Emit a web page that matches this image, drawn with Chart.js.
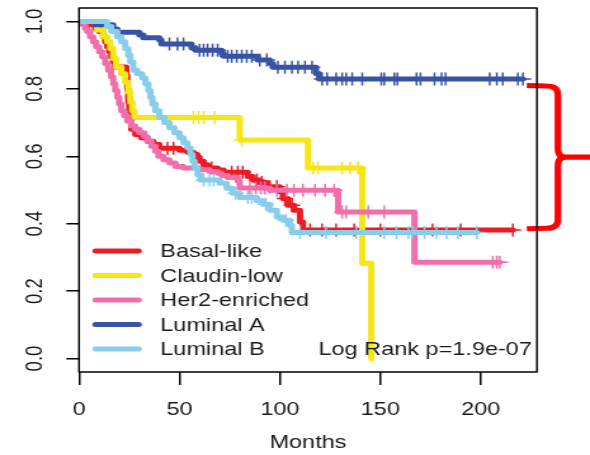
<!DOCTYPE html>
<html>
<head>
<meta charset="utf-8">
<title>Overall survival by subtype</title>
<script src="https://cdn.jsdelivr.net/npm/chart.js@4.4.1/dist/chart.umd.min.js"></script>
<style>
  html, body { margin: 0; padding: 0; background: #fff; }
  /* the source figure is stretched sideways, so the canvas is too */
  #wrap {
    position: absolute; left: 0; top: 0;
    width: 465px; height: 455px;
    transform: scaleX(1.2688); transform-origin: 0 0;
  }
</style>
</head>
<body>
<div id="wrap"><canvas id="kmChart" width="465" height="455"></canvas></div>
<script>
// --- Data ---
const subtypes = ["Basal-like", "Claudin-low", "Her2-enriched", "Luminal A", "Luminal B"];
const subtypeColors = ["#ED1C24", "#F5E614", "#F06EAA", "#3953A4", "#88CDEA"];

// event times (months) and survival just after each event, plus censor times
const basalTimes = [5, 8, 10, 12, 13, 14, 15, 16, 17, 18, 23.5, 24, 24.5, 25, 25.5, 26, 28, 31, 34, 37,
  40, 50, 54, 57, 59, 60, 62, 64, 69, 72, 84, 86.5, 90, 93.5, 100, 101.5, 104, 107, 110, 111.5];
const basalSurv = [0.99, 0.98, 0.97, 0.955, 0.94, 0.925, 0.91, 0.895, 0.88, 0.865, 0.84, 0.8, 0.76, 0.74, 0.71, 0.68, 0.665, 0.655, 0.645, 0.635,
  0.624, 0.618, 0.612, 0.605, 0.597, 0.585, 0.575, 0.565, 0.559, 0.553, 0.54, 0.53, 0.522, 0.51, 0.495, 0.475, 0.455, 0.44, 0.405, 0.381];
const basalCensored = [44, 47, 66, 76, 79, 81.5, 88.5, 91, 95, 98.5, 102.5, 106, 115, 121, 128, 137, 150, 176, 190, 216];

const claudinTimes = [9, 12, 14, 15.5, 17, 18.5, 21, 23, 24.5, 25.5, 26.5, 27.5, 80, 114, 141, 145.5];
const claudinSurv = [0.975, 0.955, 0.94, 0.92, 0.89, 0.865, 0.845, 0.82, 0.79, 0.76, 0.735, 0.715, 0.648, 0.565, 0.283, 0];
const claudinCensored = [57, 59.5, 62, 67.5, 81, 116.5, 119, 131, 135, 139];

const her2Times = [2, 3, 4, 5.5, 7, 8.5, 10, 11.5, 13, 14.5, 16, 17, 18, 19, 20, 21, 22.5, 24, 26, 28,
  30, 32.5, 34, 36, 38, 39.5, 42, 45, 48, 52, 60, 65, 69, 71, 74, 79, 80, 95, 129, 167];
const her2Surv = [0.99, 0.98, 0.97, 0.955, 0.94, 0.925, 0.91, 0.895, 0.875, 0.855, 0.835, 0.815, 0.795, 0.775, 0.755, 0.735, 0.72, 0.705, 0.69, 0.68,
  0.67, 0.658, 0.645, 0.63, 0.615, 0.6, 0.59, 0.58, 0.57, 0.565, 0.56, 0.555, 0.55, 0.543, 0.537, 0.527, 0.506, 0.499, 0.435, 0.286];
const her2Censored = [85, 88, 90.5, 92.5, 98.5, 103.5, 107, 111.5, 117.5, 122.5, 127, 131, 133, 144, 152, 206, 208, 209.5];

const lumATimes = [8, 17, 19, 30, 32, 40, 41, 56, 58, 71, 72, 89, 95, 96.5, 118, 119.5];
const lumASurv = [0.99, 0.978, 0.968, 0.96, 0.952, 0.945, 0.933, 0.922, 0.915, 0.905, 0.897, 0.886, 0.875, 0.864, 0.846, 0.829];
const lumACensored = [45, 49, 52, 60, 62, 64, 66.5, 69, 74, 76, 78.5, 81, 83.5, 86, 90, 93.5, 99, 102.5, 106, 109, 112.5, 116,
  121, 123.5, 128, 131, 133, 136, 141, 150.5, 152, 157, 158.5, 168, 170, 177, 180.5, 182.5, 204.5, 208, 211, 218.5, 221];

const lumBTimes = [14, 16, 19, 21, 23, 24.5, 25.5, 27, 29, 31.5, 33, 34.5, 35.5, 36.5, 38, 40, 42.5, 45, 47.5, 50,
  52, 54, 55.5, 56.5, 57.5, 59, 60.5, 70, 73.5, 76.5, 80, 88.5, 91.5, 95, 98.5, 101.5, 105, 106];
const lumBSurv = [0.985, 0.97, 0.955, 0.94, 0.92, 0.9, 0.88, 0.855, 0.845, 0.832, 0.815, 0.795, 0.775, 0.755, 0.735, 0.715, 0.7, 0.685, 0.67, 0.655,
  0.64, 0.625, 0.605, 0.585, 0.565, 0.545, 0.53, 0.52, 0.505, 0.49, 0.478, 0.468, 0.458, 0.44, 0.42, 0.41, 0.395, 0.374];
const lumBCensored = [62, 65, 67, 78, 84, 86, 93, 103, 110, 123, 138, 152, 158, 164, 166, 172, 178, 183, 188.5, 198];

const xTicks = [0, 50, 100, 150, 200];
const yTicks = [0, 0.2, 0.4, 0.6, 0.8, 1.0];
const pValueText = "Log Rank p=1.9e-07";
// brace on the right, spanning Luminal A down to Basal-like (survival values)
const braceTop = 0.81;
const braceBottom = 0.385;

// --- Style ---
const TEXT_COLOR = "#1a1a1a";
const FONT_FAMILY = "'Liberation Sans', Arial, sans-serif";
const FONT_SIZE = 18.5;
Chart.defaults.font.family = FONT_FAMILY;
Chart.defaults.font.size = FONT_SIZE;
Chart.defaults.color = TEXT_COLOR;

// --- Helpers ---
// merge events and censor times into one step series; censored points carry c=true
function buildCurve(times, surv, censored) {
  const pts = times.map((t, i) => ({ x: t, y: surv[i], c: false }));
  censored.forEach((t) => pts.push({ x: t, y: null, c: true }));
  pts.sort((a, b) => a.x - b.x || (a.c ? 1 : -1));
  let level = 1;
  const out = [{ x: 0, y: 1, c: false }];
  pts.forEach((p) => {
    if (!p.c) level = p.y;
    out.push({ x: p.x, y: level, c: p.c });
  });
  return out;
}

const curves = [
  buildCurve(basalTimes, basalSurv, basalCensored),
  buildCurve(claudinTimes, claudinSurv, claudinCensored),
  buildCurve(her2Times, her2Surv, her2Censored),
  buildCurve(lumATimes, lumASurv, lumACensored),
  buildCurve(lumBTimes, lumBSurv, lumBCensored),
];

// later subtypes are drawn on top, as in the original plot
const datasets = curves.map((data, i) => ({
  label: subtypes[i],
  data: data,
  order: subtypes.length - i,
  stepped: "before",
  borderColor: subtypeColors[i],
  borderWidth: 5,
  borderCapStyle: "round",
  borderJoinStyle: "round",
  fill: false,
  pointStyle: "cross",
  pointRadius: (ctx) => (ctx.raw && ctx.raw.c ? 6.5 : 0),
  pointBorderWidth: 1.5,
  pointBorderColor: subtypeColors[i],
  pointBackgroundColor: subtypeColors[i],
  pointHitRadius: 0,
}));

// --- Extras: rotated y labels, legend, p-value, brace, frame ---
const kmExtras = {
  id: "kmExtras",
  afterDraw(chart) {
    const { ctx, chartArea, scales } = chart;
    const y = scales.y;
    const font = `${FONT_SIZE}px ${FONT_FAMILY}`;
    ctx.save();

    // y tick labels read bottom-to-top
    ctx.fillStyle = TEXT_COLOR;
    ctx.font = font;
    ctx.textAlign = "center";
    ctx.textBaseline = "middle";
    yTicks.forEach((v) => {
      ctx.save();
      ctx.translate(27.6, y.getPixelForValue(v));
      ctx.rotate(-Math.PI / 2);
      ctx.fillText(v.toFixed(1), 0, 0);
      ctx.restore();
    });

    // legend inside the plot, bottom left
    const legX = chartArea.left + 13;
    const legY = 251;
    const rowH = 24.5;
    subtypes.forEach((name, i) => {
      const ry = legY + i * rowH;
      ctx.strokeStyle = subtypeColors[i];
      ctx.lineWidth = 5;
      ctx.lineCap = "round";
      ctx.beginPath();
      ctx.moveTo(legX, ry);
      ctx.lineTo(legX + 34, ry);
      ctx.stroke();
      ctx.fillStyle = TEXT_COLOR;
      ctx.textAlign = "left";
      ctx.fillText(name, chartArea.left + 64, ry + 1);
    });

    // log rank p-value
    ctx.textAlign = "right";
    ctx.fillText(pValueText, chartArea.right - 4, 349.5);

    // red curly brace
    const t = y.getPixelForValue(braceTop);
    const b = y.getPixelForValue(braceBottom);
    const m = (t + b) / 2;
    const x0 = chartArea.right - 8;
    const xv = chartArea.right + 16.5;
    const r = 9;
    ctx.strokeStyle = "#ff0000";
    ctx.lineWidth = 5.2;
    ctx.lineCap = "butt";
    ctx.lineJoin = "round";
    ctx.beginPath();
    ctx.moveTo(x0, t);
    ctx.lineTo(xv - r, t + 0.5);
    ctx.quadraticCurveTo(xv, t + 0.5, xv, t + r);
    ctx.lineTo(xv, m - r);
    ctx.quadraticCurveTo(xv, m, xv + 6, m);
    ctx.lineTo(chart.width, m);
    ctx.moveTo(xv + 6, m);
    ctx.quadraticCurveTo(xv, m, xv, m + r);
    ctx.lineTo(xv, b - r);
    ctx.quadraticCurveTo(xv, b - 0.5, xv - r, b - 0.5);
    ctx.lineTo(x0, b);
    ctx.stroke();

    // plot frame
    ctx.strokeStyle = "#000";
    ctx.lineWidth = 1.5;
    ctx.strokeRect(chartArea.left, chartArea.top, chartArea.right - chartArea.left, chartArea.bottom - chartArea.top);

    ctx.restore();
  },
};

// --- Chart ---
new Chart(document.getElementById("kmChart"), {
  type: "line",
  data: { datasets: datasets },
  options: {
    responsive: false,
    animation: false,
    layout: { padding: { top: 8, right: 41.8, left: 0, bottom: 0 } },
    plugins: { legend: { display: false }, tooltip: { enabled: false } },
    scales: {
      x: {
        type: "linear",
        min: 0,
        max: 228,
        afterBuildTicks: (s) => { s.ticks = xTicks.map((v) => ({ value: v })); },
        afterFit: (s) => { s.height = 83; },
        ticks: { padding: 14, maxRotation: 0, autoSkip: false, color: TEXT_COLOR },
        grid: { drawOnChartArea: false, tickLength: 13, color: "#000", lineWidth: 1.5 },
        border: { display: false },
        title: {
          display: true,
          text: "Months",
          color: TEXT_COLOR,
          font: { size: FONT_SIZE, lineHeight: 1.2 },
          padding: { top: 0, bottom: 1 },
        },
      },
      y: {
        type: "linear",
        min: -0.04,
        max: 1.04,
        afterBuildTicks: (s) => { s.ticks = yTicks.map((v) => ({ value: v })); },
        afterFit: (s) => { s.width = 62.3; },
        ticks: { display: false },
        grid: { drawOnChartArea: false, tickLength: 10, color: "#000", lineWidth: 1.5 },
        border: { display: false },
      },
    },
  },
  plugins: [kmExtras],
});
</script>
</body>
</html>
